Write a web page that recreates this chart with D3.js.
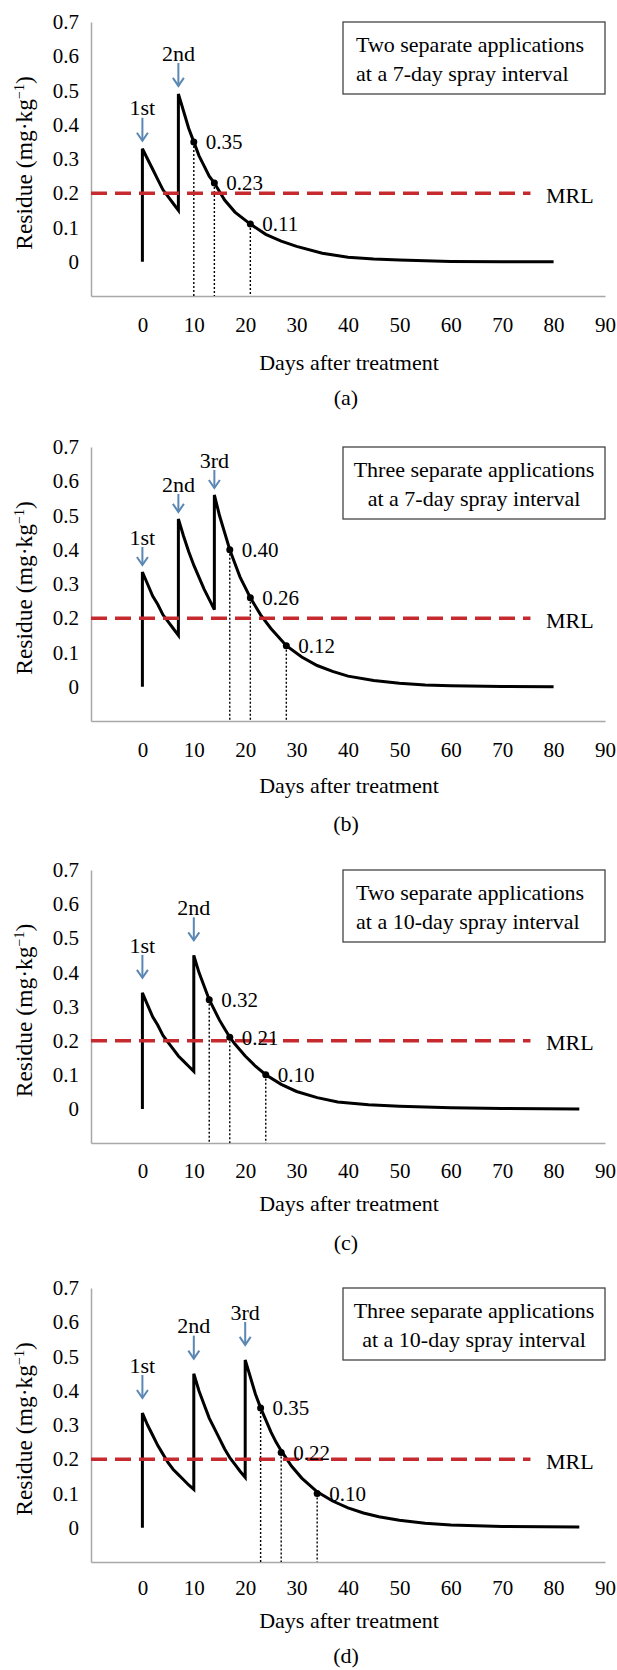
<!DOCTYPE html>
<html>
<head>
<meta charset="utf-8">
<title>Residue decline after spray applications</title>
<style>
  body { margin: 0; background: #fff; }
  svg text { font-family: "Liberation Serif", "Times New Roman", serif; fill: #000; }
</style>
</head>
<body>
<div id="chart"></div>
<script src="https://d3js.org/d3.v7.min.js"></script>
<script>
// tick labels
var xTicks = [0, 10, 20, 30, 40, 50, 60, 70, 80, 90];
var yTicks = [0, 0.1, 0.2, 0.3, 0.4, 0.5, 0.6, 0.7];
var appLabels = ['1st', '2nd', '3rd'];
var mrl = 0.2;

// (a) two applications, 7-day interval
var daysA    = [0, 0, 1, 2, 3, 4, 5, 6, 7, 7, 8, 9, 10, 11, 12, 13, 14, 16, 18, 21, 24, 27, 30, 35, 40, 45, 50, 60, 70, 80];
var residueA = [0, 0.33, 0.30, 0.27, 0.24, 0.21, 0.19, 0.17, 0.15, 0.49, 0.44, 0.39, 0.35, 0.31, 0.28, 0.25, 0.23, 0.18, 0.145, 0.11, 0.08, 0.06, 0.045, 0.025, 0.013, 0.008, 0.005, 0.001, 0, 0];
var appsA = [0, 7];
var markDaysA = [10, 14, 21];
var markValsA = [0.35, 0.23, 0.11];
var boxA = ['Two separate applications', 'at a 7-day spray interval'];

// (b) three applications, 7-day interval
var daysB    = [0, 0, 1, 2, 3, 4, 5, 6, 7, 7, 8, 9, 10, 11, 12, 13, 14, 14, 15, 16, 17, 18, 19, 20, 21, 23, 25, 28, 31, 34, 37, 40, 45, 50, 55, 60, 70, 80];
var residueB = [0, 0.335, 0.30, 0.265, 0.24, 0.21, 0.19, 0.17, 0.15, 0.49, 0.44, 0.395, 0.355, 0.32, 0.285, 0.255, 0.225, 0.56, 0.50, 0.45, 0.40, 0.36, 0.32, 0.29, 0.26, 0.21, 0.17, 0.12, 0.087, 0.062, 0.045, 0.031, 0.018, 0.010, 0.005, 0.003, 0.001, 0];
var appsB = [0, 7, 14];
var markDaysB = [17, 21, 28];
var markValsB = [0.40, 0.26, 0.12];
var boxB = ['Three separate applications', 'at a 7-day spray interval'];

// (c) two applications, 10-day interval
var daysC    = [0, 0, 1, 2, 3, 4, 5, 6, 7, 8, 9, 10, 10, 11, 12, 13, 14, 15, 16, 17, 18, 20, 22, 24, 27, 30, 34, 38, 44, 50, 60, 70, 85];
var residueC = [0, 0.34, 0.305, 0.27, 0.245, 0.215, 0.195, 0.175, 0.155, 0.14, 0.125, 0.11, 0.45, 0.40, 0.36, 0.32, 0.29, 0.26, 0.235, 0.21, 0.19, 0.155, 0.125, 0.10, 0.072, 0.051, 0.033, 0.02, 0.012, 0.008, 0.003, 0.001, 0];
var appsC = [0, 10];
var markDaysC = [13, 17, 24];
var markValsC = [0.32, 0.21, 0.10];
var boxC = ['Two separate applications', 'at a 10-day spray interval'];

// (d) three applications, 10-day interval
var daysD    = [0, 0, 1, 2, 3, 4, 5, 6, 7, 8, 9, 10, 10, 11, 12, 13, 14, 15, 16, 17, 18, 19, 20, 20, 21, 22, 23, 24, 25, 26, 27, 29, 31, 34, 37, 40, 43, 46, 50, 55, 60, 70, 85];
var residueD = [0, 0.335, 0.30, 0.27, 0.24, 0.215, 0.19, 0.17, 0.155, 0.14, 0.125, 0.112, 0.45, 0.40, 0.36, 0.32, 0.29, 0.26, 0.23, 0.205, 0.185, 0.165, 0.147, 0.49, 0.44, 0.39, 0.35, 0.315, 0.28, 0.25, 0.225, 0.18, 0.145, 0.105, 0.078, 0.058, 0.043, 0.032, 0.022, 0.013, 0.008, 0.004, 0.002];
var appsD = [0, 10, 20];
var markDaysD = [23, 27, 34];
var markValsD = [0.35, 0.22, 0.10];
var boxD = ['Three separate applications', 'at a 10-day spray interval'];

var svg = d3.select('#chart')
    .append('svg')
    .attr('width', 617)
    .attr('height', 1670);

svg.append('rect').attr('width', 617).attr('height', 1670).attr('fill', '#fff');

var panels = [
    { days: daysA, residue: residueA, apps: appsA, markDays: markDaysA, markVals: markValsA, box: boxA, caption: '(a)',
      top: 22, bottom: 296, tickY: 325, titleY: 362, capY: 397, gap: 8, len: 23, align: 'start' },
    { days: daysB, residue: residueB, apps: appsB, markDays: markDaysB, markVals: markValsB, box: boxB, caption: '(b)',
      top: 447, bottom: 721, tickY: 750, titleY: 785, capY: 823, gap: 7, len: 18, align: 'middle' },
    { days: daysC, residue: residueC, apps: appsC, markDays: markDaysC, markVals: markValsC, box: boxC, caption: '(c)',
      top: 870, bottom: 1143, tickY: 1171, titleY: 1203, capY: 1242, gap: 15, len: 23, align: 'start' },
    { days: daysD, residue: residueD, apps: appsD, markDays: markDaysD, markVals: markValsD, box: boxD, caption: '(d)',
      top: 1288, bottom: 1562, tickY: 1588, titleY: 1620, capY: 1655, gap: 15, len: 23, align: 'middle' }
];

function drawPanel(p) {
    var g = svg.append('g');
    var x = d3.scaleLinear().domain([-10, 90]).range([91, 605]);
    var y = d3.scaleLinear().domain([-0.1, 0.7]).range([p.bottom, p.top]);

    // axes, no tick marks
    var xAxis = g.append('g')
        .attr('transform', 'translate(0,' + p.bottom + ')')
        .call(d3.axisBottom(x).tickValues(xTicks).tickSize(0).tickPadding(p.tickY - p.bottom - 8));
    var yAxis = g.append('g')
        .attr('transform', 'translate(' + x(-10) + ',0)')
        .call(d3.axisLeft(y).tickValues(yTicks).tickSize(0).tickPadding(12)
            .tickFormat(function (d) { return d === 0 ? '0' : d3.format('.1f')(d); }));
    [xAxis, yAxis].forEach(function (a) {
        a.attr('font-family', null).attr('font-size', null);
        a.select('.domain').attr('stroke', '#a8a8a8').attr('stroke-width', 1.5);
        a.selectAll('text').style('font-size', '21px');
    });

    // legend box
    g.append('rect')
        .attr('x', 343).attr('y', p.top)
        .attr('width', 262).attr('height', 72)
        .attr('fill', '#fff').attr('stroke', '#444').attr('stroke-width', 1.3);
    p.box.forEach(function (t, i) {
        g.append('text')
            .attr('x', p.align === 'start' ? 356 : 474)
            .attr('y', p.top + 22 + i * 29)
            .attr('dy', '0.35em')
            .attr('text-anchor', p.align)
            .style('font-size', '22px')
            .text(t);
    });

    // dotted drop lines
    p.markDays.forEach(function (d, i) {
        g.append('line')
            .attr('x1', x(d)).attr('x2', x(d))
            .attr('y1', y(p.markVals[i])).attr('y2', p.bottom)
            .attr('stroke', '#000').attr('stroke-width', 1.4)
            .attr('stroke-dasharray', '2,2');
    });

    // residue curve
    var line = d3.line()
        .x(function (d) { return x(d[0]); })
        .y(function (d) { return y(d[1]); });
    g.append('path')
        .datum(d3.zip(p.days, p.residue))
        .attr('d', line)
        .attr('fill', 'none')
        .attr('stroke', '#000')
        .attr('stroke-width', 3)
        .attr('stroke-linejoin', 'miter');

    // MRL
    g.append('line')
        .attr('x1', x(-10)).attr('x2', x(75.5))
        .attr('y1', y(mrl)).attr('y2', y(mrl))
        .attr('stroke', '#c62a2f').attr('stroke-width', 3.5)
        .attr('stroke-dasharray', '16,8');
    g.append('text')
        .attr('x', 546).attr('y', y(mrl) + 2)
        .attr('dy', '0.35em')
        .style('font-size', '22px')
        .text('MRL');

    // markers and values
    p.markDays.forEach(function (d, i) {
        g.append('circle')
            .attr('cx', x(d)).attr('cy', y(p.markVals[i]))
            .attr('r', 3.5).attr('fill', '#000');
        g.append('text')
            .attr('x', x(d) + 12).attr('y', y(p.markVals[i]))
            .attr('dy', '0.35em')
            .style('font-size', '21px')
            .text(d3.format('.2f')(p.markVals[i]));
    });

    // application arrows
    p.apps.forEach(function (a, i) {
        var peak = d3.max(p.days.map(function (d, j) { return d === a ? p.residue[j] : 0; }));
        var ax = x(a);
        var tip = y(peak) - p.gap;
        var top = tip - p.len;
        g.append('line')
            .attr('x1', ax).attr('x2', ax)
            .attr('y1', top).attr('y2', tip)
            .attr('stroke', '#5b87b4').attr('stroke-width', 2);
        g.append('path')
            .attr('d', 'M' + (ax - 5.5) + ',' + (tip - 8) + 'L' + ax + ',' + tip + 'L' + (ax + 5.5) + ',' + (tip - 8))
            .attr('fill', 'none')
            .attr('stroke', '#5b87b4').attr('stroke-width', 2);
        g.append('text')
            .attr('x', ax).attr('y', top - 10)
            .attr('dy', '0.35em')
            .attr('text-anchor', 'middle')
            .style('font-size', '22px')
            .text(appLabels[i]);
    });

    // axis titles and caption
    var yt = g.append('text')
        .attr('transform', 'translate(24,' + ((p.top + p.bottom) / 2 + 4) + ') rotate(-90)')
        .attr('text-anchor', 'middle')
        .attr('dy', '0.35em')
        .style('font-size', '23.5px');
    yt.append('tspan').text('Residue (mg\u00b7kg');
    yt.append('tspan').attr('dy', -8).style('font-size', '14px').text('\u22121');
    yt.append('tspan').attr('dy', 8).text(')');

    g.append('text')
        .attr('x', 349).attr('y', p.titleY)
        .attr('dy', '0.35em')
        .attr('text-anchor', 'middle')
        .style('font-size', '22px')
        .text('Days after treatment');
    g.append('text')
        .attr('x', 346).attr('y', p.capY)
        .attr('dy', '0.35em')
        .attr('text-anchor', 'middle')
        .style('font-size', '22px')
        .text(p.caption);
}

panels.forEach(drawPanel);
</script>
</body>
</html>
